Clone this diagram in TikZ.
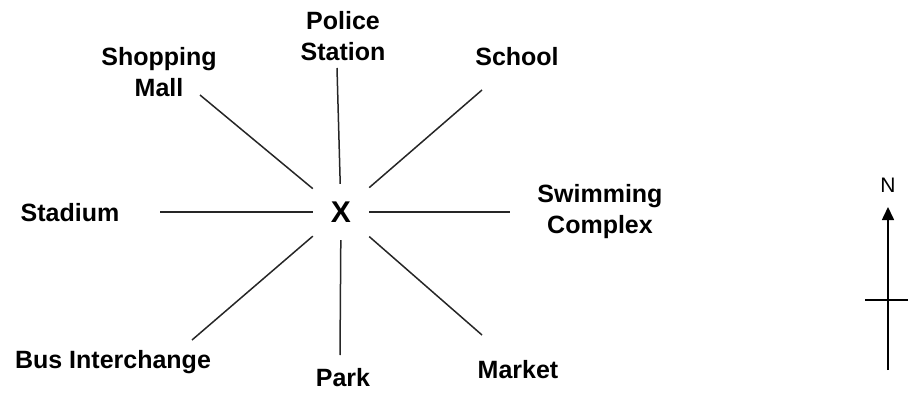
\documentclass[tikz,border=0pt]{standalone}
\usepackage{fontspec}
\setmainfont{Liberation Sans}
\usepackage{tikz}
\usetikzlibrary{arrows.meta, positioning}

\begin{document}
\begin{tikzpicture}[
    x=1pt, y=-1pt,
    place/.style  = {font=\fontsize{25}{31}\selectfont\bfseries, align=center, inner sep=0pt, text=black},
    centre/.style = {font=\fontsize{30}{32}\selectfont\bfseries, minimum width=56pt, minimum height=56pt, inner sep=0pt},
    spoke/.style  = {line width=1.5pt, black!85},
    compass/.style = {line width=1.6pt, black}
]
\useasboundingbox (0,0) rectangle (908,396);
% centre and the places round it
\node[centre] (x) at (341,212) {X};
\node[place] (police)  at (343,36)  {Police\\Station};
\node[place] (mall)    at (159,72)  {Shopping\\Mall};
\node[place] (school)  at (517,57)  {School};
\node[place] (stadium) at (70,213)  {Stadium};
\node[place] (swim)    at (600,212) {Swimming\\Complex};
\node[place] (bus)     at (113,362) {Bus Interchange};
\node[place] (park)    at (343,378) {Park};
\node[place] (market)  at (518,370) {Market};
% free ends of the spokes
\coordinate (nEnd)  at (337,68);
\coordinate (neEnd) at (482,90);
\coordinate (eEnd)  at (510,212);
\coordinate (seEnd) at (482,335);
\coordinate (sEnd)  at (340,355);
\coordinate (swEnd) at (192,340);
\coordinate (wEnd)  at (160,212);
\coordinate (nwEnd) at (200,95);
\foreach \e in {nEnd,neEnd,eEnd,seEnd,sEnd,swEnd,wEnd,nwEnd}
    \draw[spoke] (x) -- (\e);
% north arrow
\node[font=\fontsize{21}{22}\selectfont, inner sep=0pt] (north) at (888,185) {N};
\coordinate (nBase) at (888,370);
\coordinate (nTip)  at (888,207);
\coordinate (barL)  at (865,300);
\coordinate (barR)  at (908,300);
\draw[compass, -{Triangle[length=13pt, width=12pt]}] (nBase) -- (nTip);
\draw[compass] (barL) -- (barR);
\end{tikzpicture}
\end{document}
